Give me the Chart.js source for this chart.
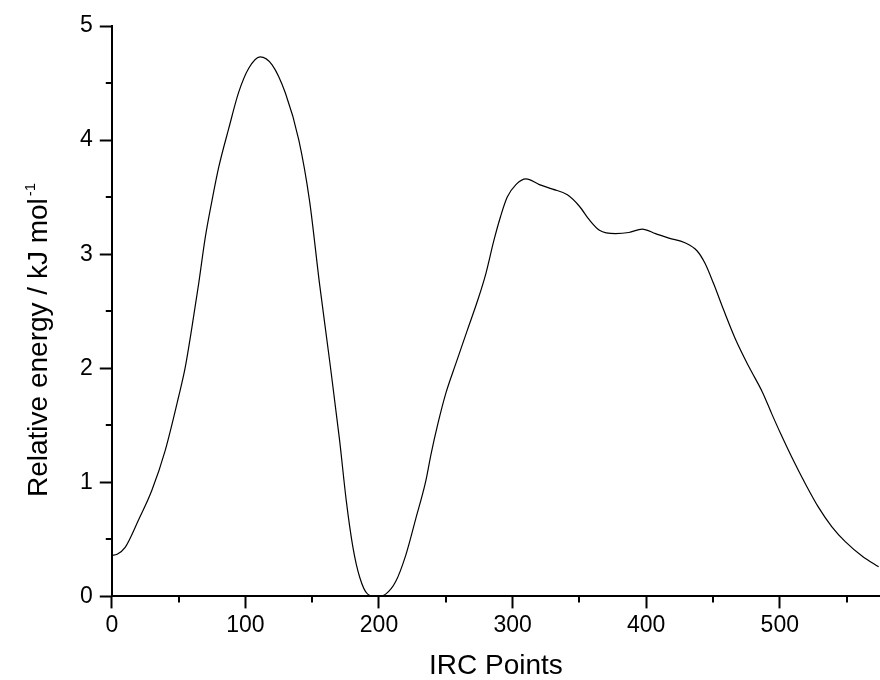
<!DOCTYPE html>
<html lang="en">
<head>
    <meta charset="utf-8">
    <title>IRC energy profile</title>
    <script src="https://cdn.jsdelivr.net/npm/chart.js@4.4.0/dist/chart.umd.min.js"></script>
    <style>
        html, body { margin: 0; padding: 0; background: #fff; }
        #wrap { width: 880px; height: 680px; }
    </style>
</head>
<body>
<div id="wrap"><canvas id="myChart"></canvas></div>
<script>
// values
var ircPoints = [0, 4, 10, 20, 30, 40, 50, 55, 60, 65, 70, 75, 80, 87.5, 95, 102.5, 111, 120, 130, 140, 148, 155.5, 163, 170.5, 175.5, 180.5, 185.5, 191.5, 198, 205, 212.5, 220, 227.5, 235, 239, 244, 250, 257.5, 266, 274, 280, 286, 291, 296, 302.5, 310, 320, 330, 341, 350, 357.5, 365, 377, 387, 397, 407, 417, 429, 438, 444, 450.5, 458, 467, 477, 487, 494, 500.5, 509, 519, 529, 539, 549, 562, 574];
var energy = [0.36, 0.37, 0.43, 0.67, 0.93, 1.28, 1.75, 2.01, 2.36, 2.74, 3.15, 3.47, 3.76, 4.1, 4.42, 4.63, 4.73, 4.66, 4.41, 4.0, 3.47, 2.74, 2.07, 1.37, 0.84, 0.43, 0.17, 0.02, 0.0, 0.02, 0.13, 0.36, 0.68, 1.01, 1.25, 1.51, 1.78, 2.04, 2.33, 2.6, 2.83, 3.12, 3.33, 3.50, 3.61, 3.66, 3.61, 3.57, 3.52, 3.42, 3.30, 3.21, 3.18, 3.19, 3.22, 3.18, 3.14, 3.10, 3.03, 2.92, 2.74, 2.51, 2.25, 2.01, 1.79, 1.60, 1.43, 1.22, 0.99, 0.78, 0.61, 0.48, 0.35, 0.26];
var xMinorTicks = [50, 150, 250, 350, 450, 550];
var yMinorTicks = [0.5, 1.5, 2.5, 3.5, 4.5];
var yTitle = 'Relative energy / kJ mol';
var yTitleSup = '-1';

var points = ircPoints.map(function (x, i) { return { x: x, y: energy[i] }; });
var fontFamily = "'Liberation Sans', Arial, sans-serif";

// short ticks in between the labelled ones, plus the y title with a real superscript
var extras = {
    id: 'extras',
    afterDraw: function (chart) {
        var ctx = chart.ctx;
        var xs = chart.scales.x, ys = chart.scales.y;
        ctx.save();
        ctx.strokeStyle = '#000';
        ctx.lineWidth = 2;
        ctx.beginPath();
        xMinorTicks.forEach(function (v) {
            var px = Math.round(xs.getPixelForValue(v));
            ctx.moveTo(px, xs.top);
            ctx.lineTo(px, xs.top + 6);
        });
        yMinorTicks.forEach(function (v) {
            var py = Math.round(ys.getPixelForValue(v));
            ctx.moveTo(ys.right, py);
            ctx.lineTo(ys.right - 6, py);
        });
        ctx.stroke();

        ctx.fillStyle = '#000';
        ctx.translate(47, 497);
        ctx.rotate(-Math.PI / 2);
        ctx.textBaseline = 'alphabetic';
        ctx.textAlign = 'left';
        ctx.font = '28px ' + fontFamily;
        ctx.fillText(yTitle, 0, 0);
        var w = ctx.measureText(yTitle).width;
        ctx.font = '15px ' + fontFamily;
        ctx.fillText(yTitleSup, w + 2, -12);
        ctx.restore();
    }
};

Chart.defaults.font.family = fontFamily;
Chart.defaults.color = '#000';

var ctx = document.getElementById("myChart").getContext("2d");
var myChart = new Chart(ctx, {
    type: 'line',
    data: {
        datasets: [{
            data: points,
            borderColor: '#000',
            borderWidth: 1.2,
            pointRadius: 0,
            fill: false,
            cubicInterpolationMode: 'monotone'
        }]
    },
    options: {
        responsive: true,
        maintainAspectRatio: false,
        animation: false,
        layout: { padding: { top: 26, right: 0, bottom: 0, left: 73 } },
        plugins: {
            legend: { display: false },
            tooltip: { enabled: false }
        },
        scales: {
            x: {
                type: 'linear',
                min: 0,
                max: 575,
                border: { display: true, color: '#000', width: 2 },
                grid: { drawOnChartArea: false, tickLength: 12, tickColor: '#000', tickWidth: 2 },
                ticks: { stepSize: 100, includeBounds: false, font: { size: 23 }, padding: 3, maxRotation: 0 },
                title: { display: true, text: 'IRC Points', font: { size: 28, lineHeight: 1 }, padding: { top: 10, bottom: 0 } }
            },
            y: {
                min: 0,
                max: 5,
                border: { display: true, color: '#000', width: 2 },
                grid: { drawOnChartArea: false, tickLength: 12, tickColor: '#000', tickWidth: 2 },
                ticks: { stepSize: 1, font: { size: 23 }, padding: 7 }
            }
        }
    },
    plugins: [extras]
});
</script>
</body>
</html>
